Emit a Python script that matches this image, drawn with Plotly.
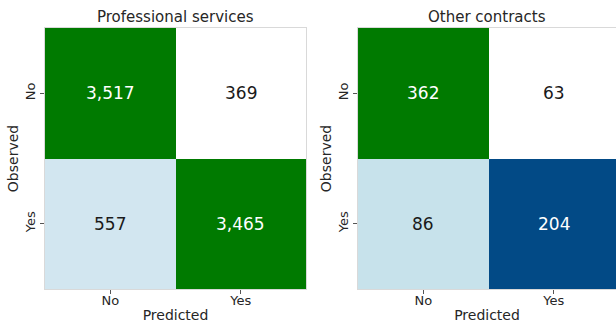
import plotly.graph_objects as go

# Confusion-matrix counts, rows = observed (No, Yes), cols = predicted (No, Yes)
classes = ["No", "Yes"]
panel_titles = ["Professional services", "Other contracts"]
prof_counts = [[3517, 369], [557, 3465]]
other_counts = [[362, 63], [86, 204]]

# Cell fill per panel (same row/col layout as the counts)
prof_colors = [["#007a00", "#ffffff"], ["#d2e6f0", "#007a00"]]
other_colors = [["#007a00", "#ffffff"], ["#c7e2eb", "#024a86"]]
dark_fills = {"#007a00", "#024a86"}

FONT = "DejaVu Sans"
SPINE = "#d9d9d9"


def step_colorscale(counts, colors):
    """Discrete colour scale that paints each count with its own fill."""
    pairs = sorted(
        (counts[r][c], colors[r][c]) for r in range(2) for c in range(2)
    )
    lo, hi = pairs[0][0], pairs[-1][0]
    span = hi - lo
    scale = []
    for i, (v, col) in enumerate(pairs):
        start = 0.0 if i == 0 else ((pairs[i - 1][0] + v) / 2 - lo) / span
        end = 1.0 if i == len(pairs) - 1 else ((v + pairs[i + 1][0]) / 2 - lo) / span
        scale.append([start, col])
        scale.append([end, col])
    return scale, lo, hi


fig = go.Figure()
annotations = []
panels = [(prof_counts, prof_colors), (other_counts, other_colors)]
for k, (counts, colors) in enumerate(panels):
    xa = "x" if k == 0 else "x2"
    ya = "y" if k == 0 else "y2"
    scale, lo, hi = step_colorscale(counts, colors)
    fig.add_trace(
        go.Heatmap(
            z=counts,
            x=[0, 1],
            y=[0, 1],
            colorscale=scale,
            zmin=lo,
            zmax=hi,
            showscale=False,
            hoverinfo="skip",
            xaxis=xa,
            yaxis=ya,
        )
    )
    for r in range(2):
        for c in range(2):
            annotations.append(
                dict(
                    x=c,
                    y=r,
                    xref=xa,
                    yref=ya,
                    text=f"{counts[r][c]:,}",
                    showarrow=False,
                    font=dict(
                        family=FONT,
                        size=17,
                        color="white" if colors[r][c] in dark_fills else "#1a1a1a",
                    ),
                )
            )

# Panel titles
for k, title in enumerate(panel_titles):
    annotations.append(
        dict(
            x=0.5,
            y=1.0,
            xref=("x" if k == 0 else "x2") + " domain",
            yref="paper",
            yshift=0,
            yanchor="bottom",
            text=title,
            showarrow=False,
            font=dict(family=FONT, size=15, color="#262626"),
        )
    )

axis_common = dict(
    tickvals=[0, 1],
    ticktext=classes,
    ticks="outside",
    ticklen=4,
    tickcolor="#555555",
    tickfont=dict(family=FONT, size=13, color="#262626"),
    showgrid=False,
    zeroline=False,
    showline=True,
    linecolor=SPINE,
    linewidth=1,
    automargin=False,
    fixedrange=True,
)

title_font = dict(family=FONT, size=14, color="#262626")

fig.update_layout(
    width=616,
    height=323,
    margin=dict(l=45, r=0, t=28, b=34),
    paper_bgcolor="white",
    plot_bgcolor="white",
    annotations=annotations,
    xaxis=dict(
        axis_common,
        domain=[0, 0.4571],
        range=[-0.5, 1.5],
        mirror=True,
        ticklabelstandoff=-5,
        title=dict(text="Predicted", font=title_font, standoff=8),
    ),
    yaxis=dict(
        axis_common,
        domain=[0, 1],
        range=[1.5, -0.5],
        mirror=True,
        tickangle=-90,
        title=dict(text="Observed", font=title_font, standoff=0),
    ),
    xaxis2=dict(
        axis_common,
        domain=[0.5482, 1],
        range=[-0.5, 1.477],
        anchor="y2",
        mirror=True,
        ticklabelstandoff=-5,
        title=dict(text="Predicted", font=title_font, standoff=8),
    ),
    yaxis2=dict(
        axis_common,
        domain=[0, 1],
        range=[1.5, -0.5],
        anchor="x2",
        mirror=False,
        tickangle=-90,
        title=dict(text="Observed", font=title_font, standoff=0),
    ),
)

fig.write_html("out.html")
